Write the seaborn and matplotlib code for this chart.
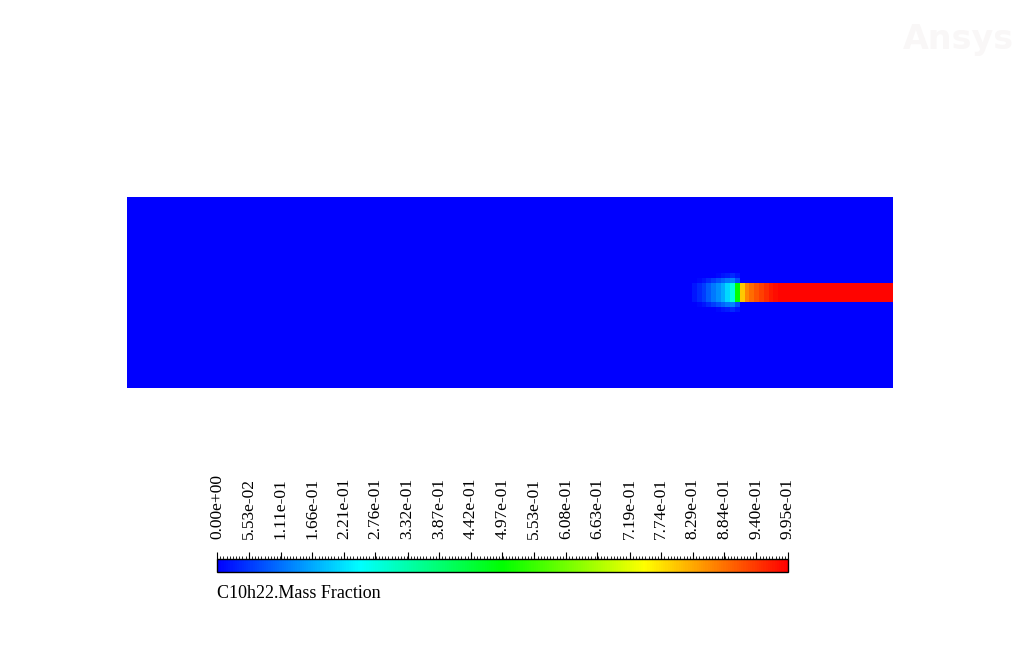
import matplotlib
matplotlib.use("Agg")
import matplotlib.pyplot as plt
from matplotlib.colors import LinearSegmentedColormap
from matplotlib.ticker import AutoMinorLocator
import numpy as np
import seaborn as sns

# grid of the contour field (rows x columns of cells)
n_rows = 40
n_cols = 160

# mass fraction along the jet core (rows 18-21), from column 118 onward
core_start = 118
core_rows = [18, 19, 20, 21]
core_profile = [0.02, 0.04, 0.06, 0.09, 0.12, 0.14, 0.17, 0.21, 0.28, 0.50,
                0.80, 0.86, 0.89, 0.91, 0.93, 0.95, 0.97, 0.98] + [0.99] * 24

# faint plume just above / below the core, ahead of the jet tip
edge_rows = [17, 22]
edge_profile = [0.0, 0.01, 0.02, 0.04, 0.06, 0.08, 0.10, 0.12, 0.13, 0.08]
outer_rows = [16, 23]
outer_profile = [0.0, 0.0, 0.0, 0.0, 0.0, 0.01, 0.02, 0.03, 0.04, 0.02]

tick_labels = ["0.00e+00", "5.53e-02", "1.11e-01", "1.66e-01", "2.21e-01",
               "2.76e-01", "3.32e-01", "3.87e-01", "4.42e-01", "4.97e-01",
               "5.53e-01", "6.08e-01", "6.63e-01", "7.19e-01", "7.74e-01",
               "8.29e-01", "8.84e-01", "9.40e-01", "9.95e-01"]
tick_values = [float(s) for s in tick_labels]

field = np.zeros((n_rows, n_cols))
for r in core_rows:
    field[r, core_start:core_start + len(core_profile)] = core_profile
for r in edge_rows:
    field[r, core_start:core_start + len(edge_profile)] = edge_profile
for r in outer_rows:
    field[r, core_start:core_start + len(outer_profile)] = outer_profile

fluent = LinearSegmentedColormap.from_list(
    "fluent",
    [(0.0, (0, 0, 1)), (0.25, (0, 1, 1)), (0.5, (0, 1, 0)),
     (0.75, (1, 1, 0)), (1.0, (1, 0, 0))])

sns.set_style("white")
plt.rcParams["font.family"] = ["Liberation Serif", "DejaVu Serif"]
plt.rcParams["text.color"] = "black"
plt.rcParams["xtick.color"] = "black"
plt.rcParams["xtick.labelcolor"] = "black"

fig = plt.figure(figsize=(10.22, 6.64), dpi=100)
ax = fig.add_axes([127 / 1022, 1 - 388 / 664, 766 / 1022, 191 / 664])
cax = fig.add_axes([217 / 1022, 1 - 571.5 / 664, 571 / 1022, 13 / 664])

sns.heatmap(field, cmap=fluent, vmin=tick_values[0], vmax=tick_values[-1],
            ax=ax, cbar_ax=cax, cbar_kws={"orientation": "horizontal"},
            xticklabels=False, yticklabels=False)
ax.set_xticks([])
ax.set_yticks([])

cbar = ax.collections[0].colorbar
cbar.outline.set_edgecolor("black")
cbar.outline.set_linewidth(1.0)
cax.xaxis.set_ticks_position("top")
cax.set_xticks(tick_values)
cax.set_xticklabels(tick_labels, rotation=90, fontsize=12.5, color="black")
cax.xaxis.set_minor_locator(AutoMinorLocator(10))
cax.tick_params(axis="x", which="major", direction="out", length=5,
                width=0.8, color="black", pad=9, top=True, bottom=False)
cax.tick_params(axis="x", which="minor", direction="out", length=2.5,
                width=0.6, color="black", top=True, bottom=False)

fig.text(217 / 1022, 1 - 593 / 664, "C10h22.Mass Fraction",
         fontsize=13, va="center", ha="left", color="black")
fig.text(903 / 1022, 1 - 39 / 664, "Ansys", fontsize=24, fontweight="bold",
         color="#f9f7f7", va="center", ha="left", family="DejaVu Sans")

fig.savefig("out.png", dpi=100)
